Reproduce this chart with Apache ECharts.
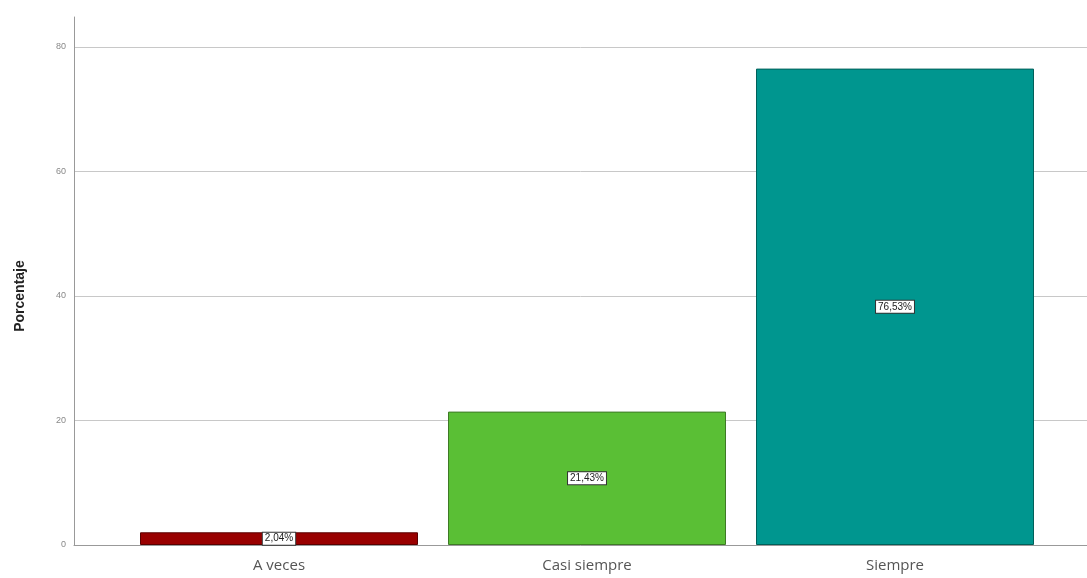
<!DOCTYPE html>
<html><head><meta charset="utf-8">
<script src="https://cdn.jsdelivr.net/npm/echarts@6/dist/echarts.min.js"></script>
<style>html,body{margin:0;padding:0;background:#fff}#c{width:1087px;height:578px}</style>
</head><body><div id="c"></div>
<script>
const categories = ['A veces', 'Casi siempre', 'Siempre'];
const values = [2.04, 21.43, 76.53];
const labels = ['2,04%', '21,43%', '76,53%'];
const colors = ['#990000', '#5ABF35', '#00968F'];
const borders = ['#5a0000', '#3d7a25', '#00605a'];
const yTicks = [0, 20, 40, 60, 80];

const chart = echarts.init(document.getElementById('c'));
chart.setOption({
  animation: false,
  backgroundColor: '#fff',
  grid: [
    {left: 74, right: 0, top: 17, bottom: 33},
    {left: 74, right: 0, top: 47, bottom: 33},
    {left: 125, right: 38, top: 47, bottom: 33}
  ],
  xAxis: [
    {gridIndex: 0, type: 'value', show: false},
    {gridIndex: 1, type: 'value', min: 0, max: 1, axisLine: {show: true, lineStyle: {color: '#999', width: 1}}, axisTick: {show: false}, axisLabel: {show: false}, splitLine: {show: false}},
    {gridIndex: 2, type: 'category', data: categories, axisLine: {show: false}, axisTick: {show: false},
     axisLabel: {color: '#555', fontSize: 15, fontFamily: 'Open Sans', margin: 13}}
  ],
  yAxis: [
    {gridIndex: 0, type: 'value', min: 0, max: 84.8, axisLine: {show: true, lineStyle: {color: '#999'}}, axisTick: {show: false}, axisLabel: {show: false}, splitLine: {show: false}},
    {gridIndex: 1, type: 'value', min: yTicks[0], max: yTicks[yTicks.length - 1], interval: 20,
     name: 'Porcentaje', nameLocation: 'middle', nameGap: 47, nameTextStyle: {fontWeight: 'bold', fontSize: 14, color: '#222', fontFamily: 'Liberation Sans'},
     axisLine: {show: false}, axisTick: {show: false},
     axisLabel: {color: '#888', fontSize: 9, margin: 8},
     splitLine: {show: true, lineStyle: {color: '#c8c8c8', width: 1}}},
    {gridIndex: 2, type: 'value', min: 0, max: 80, show: false}
  ],
  series: [{
    type: 'bar', xAxisIndex: 2, yAxisIndex: 2,
    barWidth: 278,
    data: values.map((v, i) => ({value: v, itemStyle: {color: colors[i], borderColor: borders[i], borderWidth: 1},
      label: {formatter: labels[i]}})),
    label: {show: true, position: 'inside', backgroundColor: '#fff', borderColor: '#333', borderWidth: 1,
      padding: [1, 2], color: '#222', fontSize: 10, fontFamily: 'Liberation Sans'}
  }]
});
</script></body></html>
